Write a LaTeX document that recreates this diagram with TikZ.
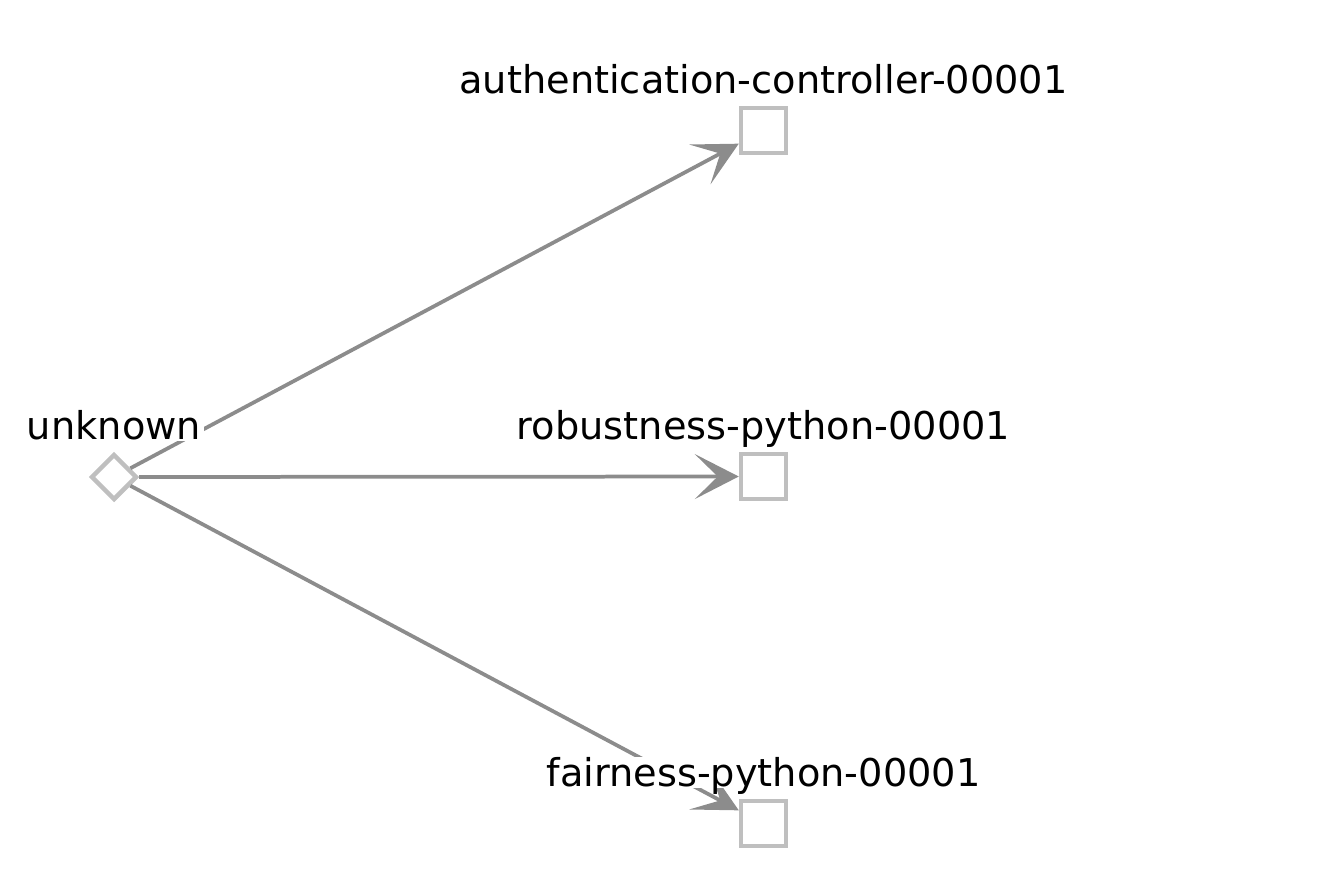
\documentclass[tikz,border=0pt]{standalone}
\usepackage{fontspec}
\setmainfont{DejaVu Sans}
\usetikzlibrary{shapes.geometric, arrows.meta}
\definecolor{edgegray}{HTML}{8C8C8C}
\definecolor{nodegray}{HTML}{BFBFBF}
\tikzset{
  pod/.style={draw=nodegray, line width=0.09cm, fill=white, rectangle, inner sep=0, minimum size=0.9cm},
  src/.style={draw=nodegray, line width=0.09cm, fill=white, diamond, inner sep=0, minimum width=0.92cm, minimum height=0.92cm},
  flow/.style={draw=edgegray, line width=0.075cm, -{Stealth[length=0.88cm, width=0.9cm, inset=0.46cm]}},
  lbl/.style={font=\fontsize{21.8}{26}\selectfont, text=black, fill=white, inner xsep=0.05cm, inner ysep=0.02cm, text depth=0pt, anchor=base}
}

\begin{document}
\begin{tikzpicture}[x=0.02cm, y=-0.02cm]
\useasboundingbox (0,0) rectangle (1334,888);

\node[src](U) at (114,477) {};
\node[pod](P1) at (763.5,130.5) {};
\node[pod](P2) at (763.5,476.5) {};
\node[pod](P3) at (763.5,823.5) {};

\draw[flow] (U) -- (P1);
\draw[flow] (U) -- (P2);
\draw[flow] (U) -- (P3);

\node[lbl](LU) at ([yshift=0.24cm]U.north) {unknown};
\node[lbl](L1) at ([yshift=0.24cm]P1.north) {authentication-controller-00001};
\node[lbl](L2) at ([yshift=0.24cm]P2.north) {robustness-python-00001};
\node[lbl](L3) at ([yshift=0.24cm]P3.north) {fairness-python-00001};
\end{tikzpicture}
\end{document}
